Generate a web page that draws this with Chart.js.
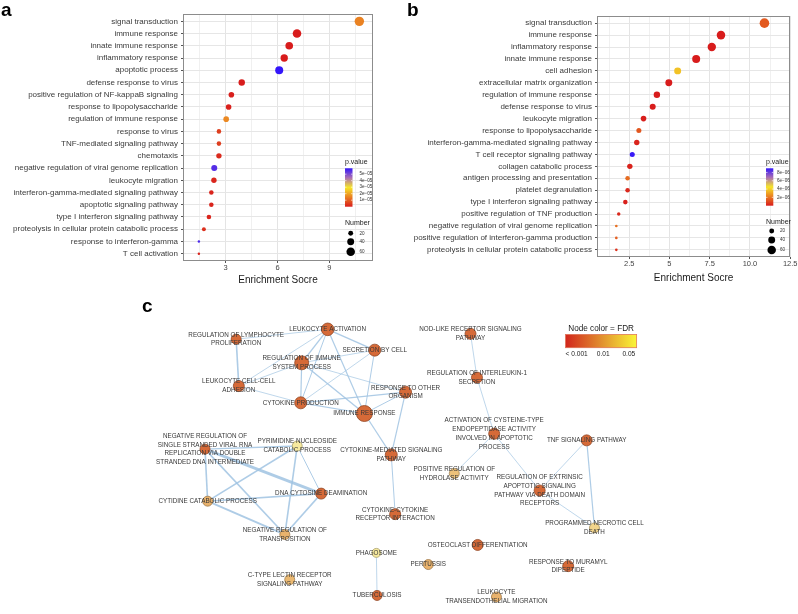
<!DOCTYPE html>
<html>
<head>
<meta charset="utf-8">
<title>Enrichment figure</title>
<script src="https://cdn.jsdelivr.net/npm/chart.js@4.4.1/dist/chart.umd.min.js"></script>
<style>
  html, body { margin:0; padding:0; background:#fff; }
  #fig { position:relative; width:798px; height:614px; overflow:hidden; background:#fff; }
  #fig canvas { position:absolute; }
  .plab { position:absolute; font-family:"Liberation Sans", Arial, sans-serif; font-weight:bold; font-size:19px; line-height:19px; color:#000; }
</style>
</head>
<body>
<div id="fig">
  <canvas id="chartA" width="400" height="290" style="left:0px;top:0px;width:400px;height:290px"></canvas>
  <canvas id="chartB" width="398" height="290" style="left:400px;top:0px;width:398px;height:290px"></canvas>
  <canvas id="chartC" width="668" height="324" style="left:130px;top:290px;width:668px;height:324px"></canvas>
  <div class="plab" style="left:1px;top:0px">a</div>
  <div class="plab" style="left:407px;top:0px">b</div>
  <div class="plab" style="left:142px;top:296px">c</div>
</div>
<script>
const FONT = "'Liberation Sans', Arial, Helvetica, sans-serif";

// ---------------- Panel a data ----------------
const termsA = ['signal transduction','immune response','innate immune response','inflammatory response','apoptotic process','defense response to virus','positive regulation of NF-kappaB signaling','response to lipopolysaccharide','regulation of immune response','response to virus','TNF-mediated signaling pathway','chemotaxis','negative regulation of viral genome replication','leukocyte migration','interferon-gamma-mediated signaling pathway','apoptotic signaling pathway','type I interferon signaling pathway','proteolysis in cellular protein catabolic process','response to interferon-gamma','T cell activation'];
const scoreA = [10.74,7.13,6.68,6.39,6.10,3.93,3.33,3.17,3.03,2.61,2.61,2.61,2.34,2.32,2.17,2.17,2.03,1.74,1.45,1.45];
const countA = [73,61,48,45,53,34,26,26,26,17,17,24,30,24,17,17,17,13,5,5];
const pvalA  = [1.5e-5,1e-10,3e-9,5e-9,5.9e-5,8e-8,4e-7,6e-7,1.6e-5,5e-6,5e-6,2e-6,5.5e-5,1.5e-6,1.2e-6,1.2e-6,1.4e-6,3e-6,5.6e-5,1e-6];
const xTicksA = [3,6,9];
const xTickLabelsA = ['3','6','9'];
const xMinorA = [1.5,4.5,7.5,10.5];
const pLegendA = [1e-5,2e-5,3e-5,4e-5,5e-5];
const pLegendLabelsA = ['1e\u221205','2e\u221205','3e\u221205','4e\u221205','5e\u221205'];

// ---------------- Panel b data ----------------
const termsB = ['signal transduction','immune response','inflammatory response','innate immune response','cell adhesion','extracellular matrix organization','regulation of immune response','defense response to virus','leukocyte migration','response to lipopolysaccharide','interferon-gamma-mediated signaling pathway','T cell receptor signaling pathway','collagen catabolic process','antigen processing and presentation','platelet degranulation','type I interferon signaling pathway','positive regulation of TNF production','negative regulation of viral genome replication','positive regulation of interferon-gamma production','proteolysis in cellular protein catabolic process'];
const scoreB = [10.90,8.20,7.63,6.66,5.51,4.96,4.22,3.96,3.39,3.10,2.97,2.69,2.54,2.40,2.40,2.26,1.85,1.70,1.70,1.70];
const countB = [76,61,58,53,40,40,34,30,26,21,24,21,24,17,17,17,10,6,6,6];
const pvalB  = [1.4e-6,1e-12,2e-11,5e-10,3.7e-6,3e-9,1e-8,2e-8,6e-8,1.3e-6,2e-7,8.9e-6,1.5e-7,1.8e-6,3e-7,1e-7,3e-7,1.9e-6,1.5e-6,5e-7];
const xTicksB = [2.5,5,7.5,10,12.5];
const xTickLabelsB = ['2.5','5','7.5','10.0','12.5'];
const xMinorB = [1.25,3.75,6.25,8.75,11.25];
const pLegendB = [2e-6,4e-6,6e-6,8e-6];
const pLegendLabelsB = ['2e\u221206','4e\u221206','6e\u221206','8e\u221206'];

const sizeLegend = [20,40,60];

// ---------------- Panel c data (network) ----------------
const nodeLabels = [
 ['LEUKOCYTE ACTIVATION'],
 ['REGULATION OF LYMPHOCYTE','PROLIFERATION'],
 ['SECRETION BY CELL'],
 ['REGULATION OF IMMUNE','SYSTEM PROCESS'],
 ['LEUKOCYTE CELL-CELL','ADHESION'],
 ['RESPONSE TO OTHER','ORGANISM'],
 ['CYTOKINE PRODUCTION'],
 ['IMMUNE RESPONSE'],
 ['CYTOKINE-MEDIATED SIGNALING','PATHWAY'],
 ['CYTOKINE-CYTOKINE','RECEPTOR INTERACTION'],
 ['NEGATIVE REGULATION OF','SINGLE STRANDED VIRAL RNA','REPLICATION VIA DOUBLE','STRANDED DNA INTERMEDIATE'],
 ['PYRIMIDINE NUCLEOSIDE','CATABOLIC PROCESS'],
 ['CYTIDINE CATABOLIC PROCESS'],
 ['DNA CYTOSINE DEAMINATION'],
 ['NEGATIVE REGULATION OF','TRANSPOSITION'],
 ['NOD-LIKE RECEPTOR SIGNALING','PATHWAY'],
 ['REGULATION OF INTERLEUKIN-1','SECRETION'],
 ['ACTIVATION OF CYSTEINE-TYPE','ENDOPEPTIDASE ACTIVITY','INVOLVED IN APOPTOTIC','PROCESS'],
 ['TNF SIGNALING PATHWAY'],
 ['POSITIVE REGULATION OF','HYDROLASE ACTIVITY'],
 ['REGULATION OF EXTRINSIC','APOPTOTIC SIGNALING','PATHWAY VIA DEATH DOMAIN','RECEPTORS'],
 ['PROGRAMMED NECROTIC CELL','DEATH'],
 ['PHAGOSOME'],
 ['TUBERCULOSIS'],
 ['PERTUSSIS'],
 ['C-TYPE LECTIN RECEPTOR','SIGNALING PATHWAY'],
 ['OSTEOCLAST DIFFERENTIATION'],
 ['RESPONSE TO MURAMYL','DIPEPTIDE'],
 ['LEUKOCYTE','TRANSENDOTHELIAL MIGRATION']
];
// layout coordinates of the network nodes
const nodeX = [324,230,372.3,297.3,232.7,404,296.3,361.7,389.3,393.3,198,292.7,200.7,317.3,280,470.7,477.3,495,590,454,541.7,598,374,374.7,427.3,285,478,571,497.3];
const nodeY = [322.3,332.7,344.3,357.7,382.3,388.7,400,411.3,455,517.7,449,445.7,504,496,539.3,327,373.3,432.7,439.7,474.7,492.7,532.3,558.7,603.7,571,587,550.3,572.7,605.3];
const nodeSize = [6.3,5,6,7,5.5,6,6,8,6,5.5,5,5,5,5.5,5,5.5,5.5,5.5,5.5,5,5.5,5,4.5,5,5,5,5.5,5.5,5];
const nodeFDR = [0.0005,0.0007,0.0005,0.0005,0.0005,0.0005,0.0005,0.0004,0.0005,0.0005,0.0005,0.045,0.01,0.0005,0.01,0.0005,0.0005,0.0005,0.0005,0.015,0.0005,0.025,0.045,0.0005,0.01,0.012,0.0005,0.0005,0.01];
const edgeFrom = [0,0,0,0,0,0,1,2,2,2,3,3,3,4,4,6,6,7,7,5,8, 10,10,10,10,11,11,11,12,12,13, 15,16,17,17,18,18,20,22];
const edgeTo   = [1,3,2,6,7,4,4,3,6,7,6,7,5,6,3,5,7,5,8,8,9, 11,12,13,14,12,13,14,13,14,14, 16,17,19,20,20,21,21,23];
const edgeWeight=[0.8,1.4,1.4,1,1.2,0.8,1.6,0.8,0.8,1,1.2,1.4,0.8,0.8,0.8,1.2,1.2,1,1.2,1.2,1, 1.4,1.6,2.8,1.6,1.6,1,1.6,1.6,2,1.6, 0.8,0.8,0.8,0.8,0.8,1.2,0.8,0.8];
const fdrLegendTicks = [0.001,0.01,0.05];
const fdrLegendLabels = ['< 0.001','0.01','0.05'];

// ---------------- helpers ----------------
function mix(stops, t) {
  t = Math.max(0, Math.min(1, t));
  for (let i = 1; i < stops.length; i++) {
    if (t <= stops[i][0]) {
      const t0 = stops[i-1][0], c0 = stops[i-1][1], t1 = stops[i][0], c1 = stops[i][1];
      const f = (t - t0) / (t1 - t0);
      return c0.map((c, k) => Math.round(c + (c1[k] - c) * f));
    }
  }
  return stops[stops.length-1][1];
}
const rgb = c => 'rgb(' + c.join(',') + ')';
const pStops = [[0,[216,28,28]],[0.25,[234,128,34]],[0.5,[246,230,40]],[0.75,[172,112,178]],[1,[52,22,250]]];
function pColor(p, pmin, pmax) { return rgb(mix(pStops, (p - pmin) / (pmax - pmin))); }
function sizeR(n) { return 0.55 * Math.sqrt(n); }

function fdrPos(f) {
  if (f <= 0.001) return 0;
  if (f <= 0.01) return 0.53 * Math.log10(f / 0.001);
  return Math.min(1, 0.53 + 0.36 * Math.log(f / 0.01) / Math.log(5));
}
const nodeStops = [[0,[214,106,56]],[0.53,[233,178,108]],[0.89,[248,238,162]],[1,[250,245,170]]];
const barStops = [[0,[210,38,28]],[0.5,[225,142,46]],[1,[250,246,55]]];

// ---------------- plugins for dot plots ----------------
const panelBorder = {
  id: 'panelBorder',
  afterDraw(chart) {
    const a = chart.chartArea, ctx = chart.ctx;
    ctx.save();
    ctx.strokeStyle = '#8c8c8c';
    ctx.lineWidth = 1;
    ctx.strokeRect(Math.round(a.left) + 0.5, Math.round(a.top) + 0.5, Math.round(a.right - a.left) - 1, Math.round(a.bottom - a.top) - 1);
    ctx.restore();
  }
};

const dotLegend = {
  id: 'dotLegend',
  afterDraw(chart, args, o) {
    const ctx = chart.ctx;
    ctx.save();
    ctx.fillStyle = '#1a1a1a';
    ctx.textBaseline = 'middle';
    ctx.textAlign = 'left';
    ctx.font = '7px ' + FONT;
    ctx.fillText('p.value', o.x, o.titleY);
    const g = ctx.createLinearGradient(0, o.barBottom, 0, o.barTop);
    for (let i = 0; i <= 20; i++) g.addColorStop(i / 20, rgb(mix(pStops, i / 20)));
    ctx.fillStyle = g;
    ctx.fillRect(o.x, o.barTop, o.barW, o.barBottom - o.barTop);
    ctx.font = '4.6px ' + FONT;
    o.ticks.forEach((v, i) => {
      const y = o.barBottom - (v - o.pmin) / (o.pmax - o.pmin) * (o.barBottom - o.barTop);
      ctx.strokeStyle = '#ffffff';
      ctx.lineWidth = 0.6;
      ctx.beginPath();
      ctx.moveTo(o.x, y); ctx.lineTo(o.x + 1.5, y);
      ctx.moveTo(o.x + o.barW - 1.5, y); ctx.lineTo(o.x + o.barW, y);
      ctx.stroke();
      ctx.fillStyle = '#333';
      ctx.fillText(o.labels[i], o.labelX, y);
    });
    ctx.fillStyle = '#1a1a1a';
    ctx.font = '7px ' + FONT;
    ctx.fillText('Number', o.x, o.numY);
    sizeLegend.forEach((n, i) => {
      ctx.fillStyle = '#000';
      ctx.beginPath();
      ctx.arc(o.dotX, o.dotY[i], sizeR(n), 0, Math.PI * 2);
      ctx.fill();
      ctx.fillStyle = '#333';
      ctx.font = '4.6px ' + FONT;
      ctx.fillText(String(n), o.numLabelX, o.dotY[i]);
    });
    ctx.restore();
  }
};

function dotChart(id, cfg) {
  const majors = cfg.xTicks;
  const allX = cfg.xTicks.concat(cfg.xMinor).sort((a, b) => a - b);
  return new Chart(document.getElementById(id), {
    type: 'bubble',
    data: {
      datasets: [{
        data: cfg.terms.map((t, i) => ({ x: cfg.score[i], y: i, r: sizeR(cfg.count[i]) })),
        backgroundColor: cfg.pval.map(p => pColor(p, cfg.pmin, cfg.pmax)),
        borderWidth: 0,
        hoverRadius: 0
      }]
    },
    options: {
      responsive: false,
      animation: false,
      devicePixelRatio: 1,
      events: [],
      layout: { padding: { left: 0, right: cfg.padRight, top: cfg.padTop, bottom: 0 } },
      plugins: { legend: { display: false }, tooltip: { enabled: false }, dotLegend: cfg.legend },
      scales: {
        x: {
          type: 'linear', min: cfg.xmin, max: cfg.xmax,
          afterBuildTicks: s => { s.ticks = allX.map(v => ({ value: v })); },
          afterFit: s => { s.height = cfg.xAxisH; },
          ticks: {
            autoSkip: false, maxRotation: 0, padding: cfg.xTickPad,
            font: { size: 7.5, family: FONT }, color: '#444',
            callback: v => { const k = majors.indexOf(v); return k >= 0 ? cfg.xTickLabels[k] : ''; }
          },
          grid: {
            color: c => (c.tick && majors.indexOf(c.tick.value) >= 0) ? '#e4e4e4' : '#f0f0f0',
            lineWidth: 1, drawTicks: true, tickLength: 2,
            tickColor: c => (c.tick && majors.indexOf(c.tick.value) >= 0) ? '#555' : 'rgba(0,0,0,0)'
          },
          border: { display: false },
          title: { display: true, text: 'Enrichment Socre', font: { size: 10, family: FONT }, color: '#1a1a1a', padding: { top: 0, bottom: cfg.titlePadB } }
        },
        y: {
          type: 'linear', reverse: true, min: -0.6, max: cfg.terms.length - 0.4,
          afterBuildTicks: s => { s.ticks = cfg.terms.map((t, i) => ({ value: i })); },
          afterFit: s => { s.width = cfg.yAxisW; },
          ticks: { autoSkip: false, padding: 3, font: { size: 8, family: FONT }, color: '#3a3a3a', callback: v => cfg.terms[v] },
          grid: { color: '#e6e6e6', lineWidth: 1, drawTicks: true, tickLength: 2, tickColor: '#555' },
          border: { display: false }
        }
      }
    },
    plugins: [panelBorder, dotLegend]
  });
}

dotChart('chartA', {
  terms: termsA, score: scoreA, count: countA, pval: pvalA, pmin: 0, pmax: 5.9e-5,
  xmin: 0.53, xmax: 11.53, xTicks: xTicksA, xTickLabels: xTickLabelsA, xMinor: xMinorA,
  padRight: 27, padTop: 14, xAxisH: 29, yAxisW: 183, xTickPad: 0, titlePadB: 4,
  legend: { x: 345, titleY: 162.5, barTop: 168.3, barBottom: 206.7, barW: 7.5, labelX: 359.5,
            ticks: pLegendA, labels: pLegendLabelsA, pmin: 0, pmax: 5.9e-5,
            numY: 223.3, dotX: 350.7, dotY: [233.3, 241.7, 251.7], numLabelX: 359.5 }
});

dotChart('chartB', {
  terms: termsB, score: scoreB, count: countB, pval: pvalB, pmin: 0, pmax: 9e-6,
  xmin: 0.5, xmax: 12.5, xTicks: xTicksB, xTickLabels: xTickLabelsB, xMinor: xMinorB,
  padRight: 6, padTop: 16, xAxisH: 33, yAxisW: 197, xTickPad: 0.5, titlePadB: 6,
  legend: { x: 366, titleY: 162.5, barTop: 168.3, barBottom: 205.7, barW: 7.3, labelX: 377,
            ticks: pLegendB, labels: pLegendLabelsB, pmin: 0, pmax: 9e-6,
            numY: 221.7, dotX: 371.7, dotY: [231, 240, 250], numLabelX: 380 }
});

// ---------------- network panel ----------------
const nodeLabelPlugin = {
  id: 'nodeLabels',
  afterDatasetsDraw(chart) {
    const ctx = chart.ctx, sx = chart.scales.x, sy = chart.scales.y;
    ctx.save();
    ctx.font = '6.3px ' + FONT;
    ctx.fillStyle = '#383838';
    ctx.textAlign = 'center';
    ctx.textBaseline = 'middle';
    nodeLabels.forEach((lines, i) => {
      const px = sx.getPixelForValue(nodeX[i]), py = sy.getPixelForValue(nodeY[i]);
      const lh = 8.7;
      lines.forEach((s, j) => ctx.fillText(s, px, py + (j - (lines.length - 1) / 2) * lh));
    });
    ctx.restore();
  }
};

const fdrLegendPlugin = {
  id: 'fdrLegend',
  afterDraw(chart) {
    const ctx = chart.ctx, sx = chart.scales.x, sy = chart.scales.y;
    const x0 = sx.getPixelForValue(568.3), x1 = sx.getPixelForValue(641.3);
    const y0 = sy.getPixelForValue(327.7), y1 = sy.getPixelForValue(341.7);
    ctx.save();
    ctx.fillStyle = '#1a1a1a';
    ctx.font = '8.2px ' + FONT;
    ctx.textAlign = 'center';
    ctx.textBaseline = 'middle';
    ctx.fillText('Node color = FDR', (x0 + x1) / 2, sy.getPixelForValue(321.7));
    const g = ctx.createLinearGradient(x0, 0, x1, 0);
    for (let i = 0; i <= 10; i++) g.addColorStop(i / 10, rgb(mix(barStops, i / 10)));
    ctx.fillStyle = g;
    ctx.fillRect(x0, y0, x1 - x0, y1 - y0);
    ctx.strokeStyle = 'rgba(222,110,80,0.9)';
    ctx.lineWidth = 0.8;
    ctx.strokeRect(x0, y0, x1 - x0, y1 - y0);
    ctx.font = '6.6px ' + FONT;
    ctx.fillStyle = '#222';
    const ly = sy.getPixelForValue(349);
    fdrLegendTicks.forEach((f, i) => {
      const t = fdrPos(f);
      if (i === 0) { ctx.textAlign = 'left'; ctx.fillText(fdrLegendLabels[i], x0, ly); }
      else { ctx.textAlign = 'center'; ctx.fillText(fdrLegendLabels[i], x0 + t * (x1 - x0), ly); }
    });
    ctx.restore();
  }
};

const nodeFill = nodeFDR.map(f => mix(nodeStops, fdrPos(f)));
const edgeSets = edgeFrom.map((a, i) => ({
  type: 'scatter',
  data: [{ x: nodeX[a], y: nodeY[a] }, { x: nodeX[edgeTo[i]], y: nodeY[edgeTo[i]] }],
  showLine: true,
  pointRadius: 0,
  borderColor: 'rgba(160,195,226,0.85)',
  borderWidth: edgeWeight[i],
  order: 1
}));

new Chart(document.getElementById('chartC'), {
  type: 'scatter',
  data: {
    datasets: [{
      data: nodeX.map((x, i) => ({ x: x, y: nodeY[i] })),
      pointRadius: nodeSize,
      pointBackgroundColor: nodeFill.map(rgb),
      pointBorderColor: nodeFill.map(c => rgb(c.map(v => Math.round(v * 0.68)))),
      pointBorderWidth: 0.8,
      order: 0
    }].concat(edgeSets)
  },
  options: {
    responsive: false,
    animation: false,
    devicePixelRatio: 1,
    events: [],
    layout: { padding: 0 },
    plugins: { legend: { display: false }, tooltip: { enabled: false } },
    scales: {
      x: { type: 'linear', min: 130, max: 798, display: false },
      y: { type: 'linear', min: 290, max: 614, reverse: true, display: false }
    }
  },
  plugins: [nodeLabelPlugin, fdrLegendPlugin]
});
</script>
</body>
</html>
